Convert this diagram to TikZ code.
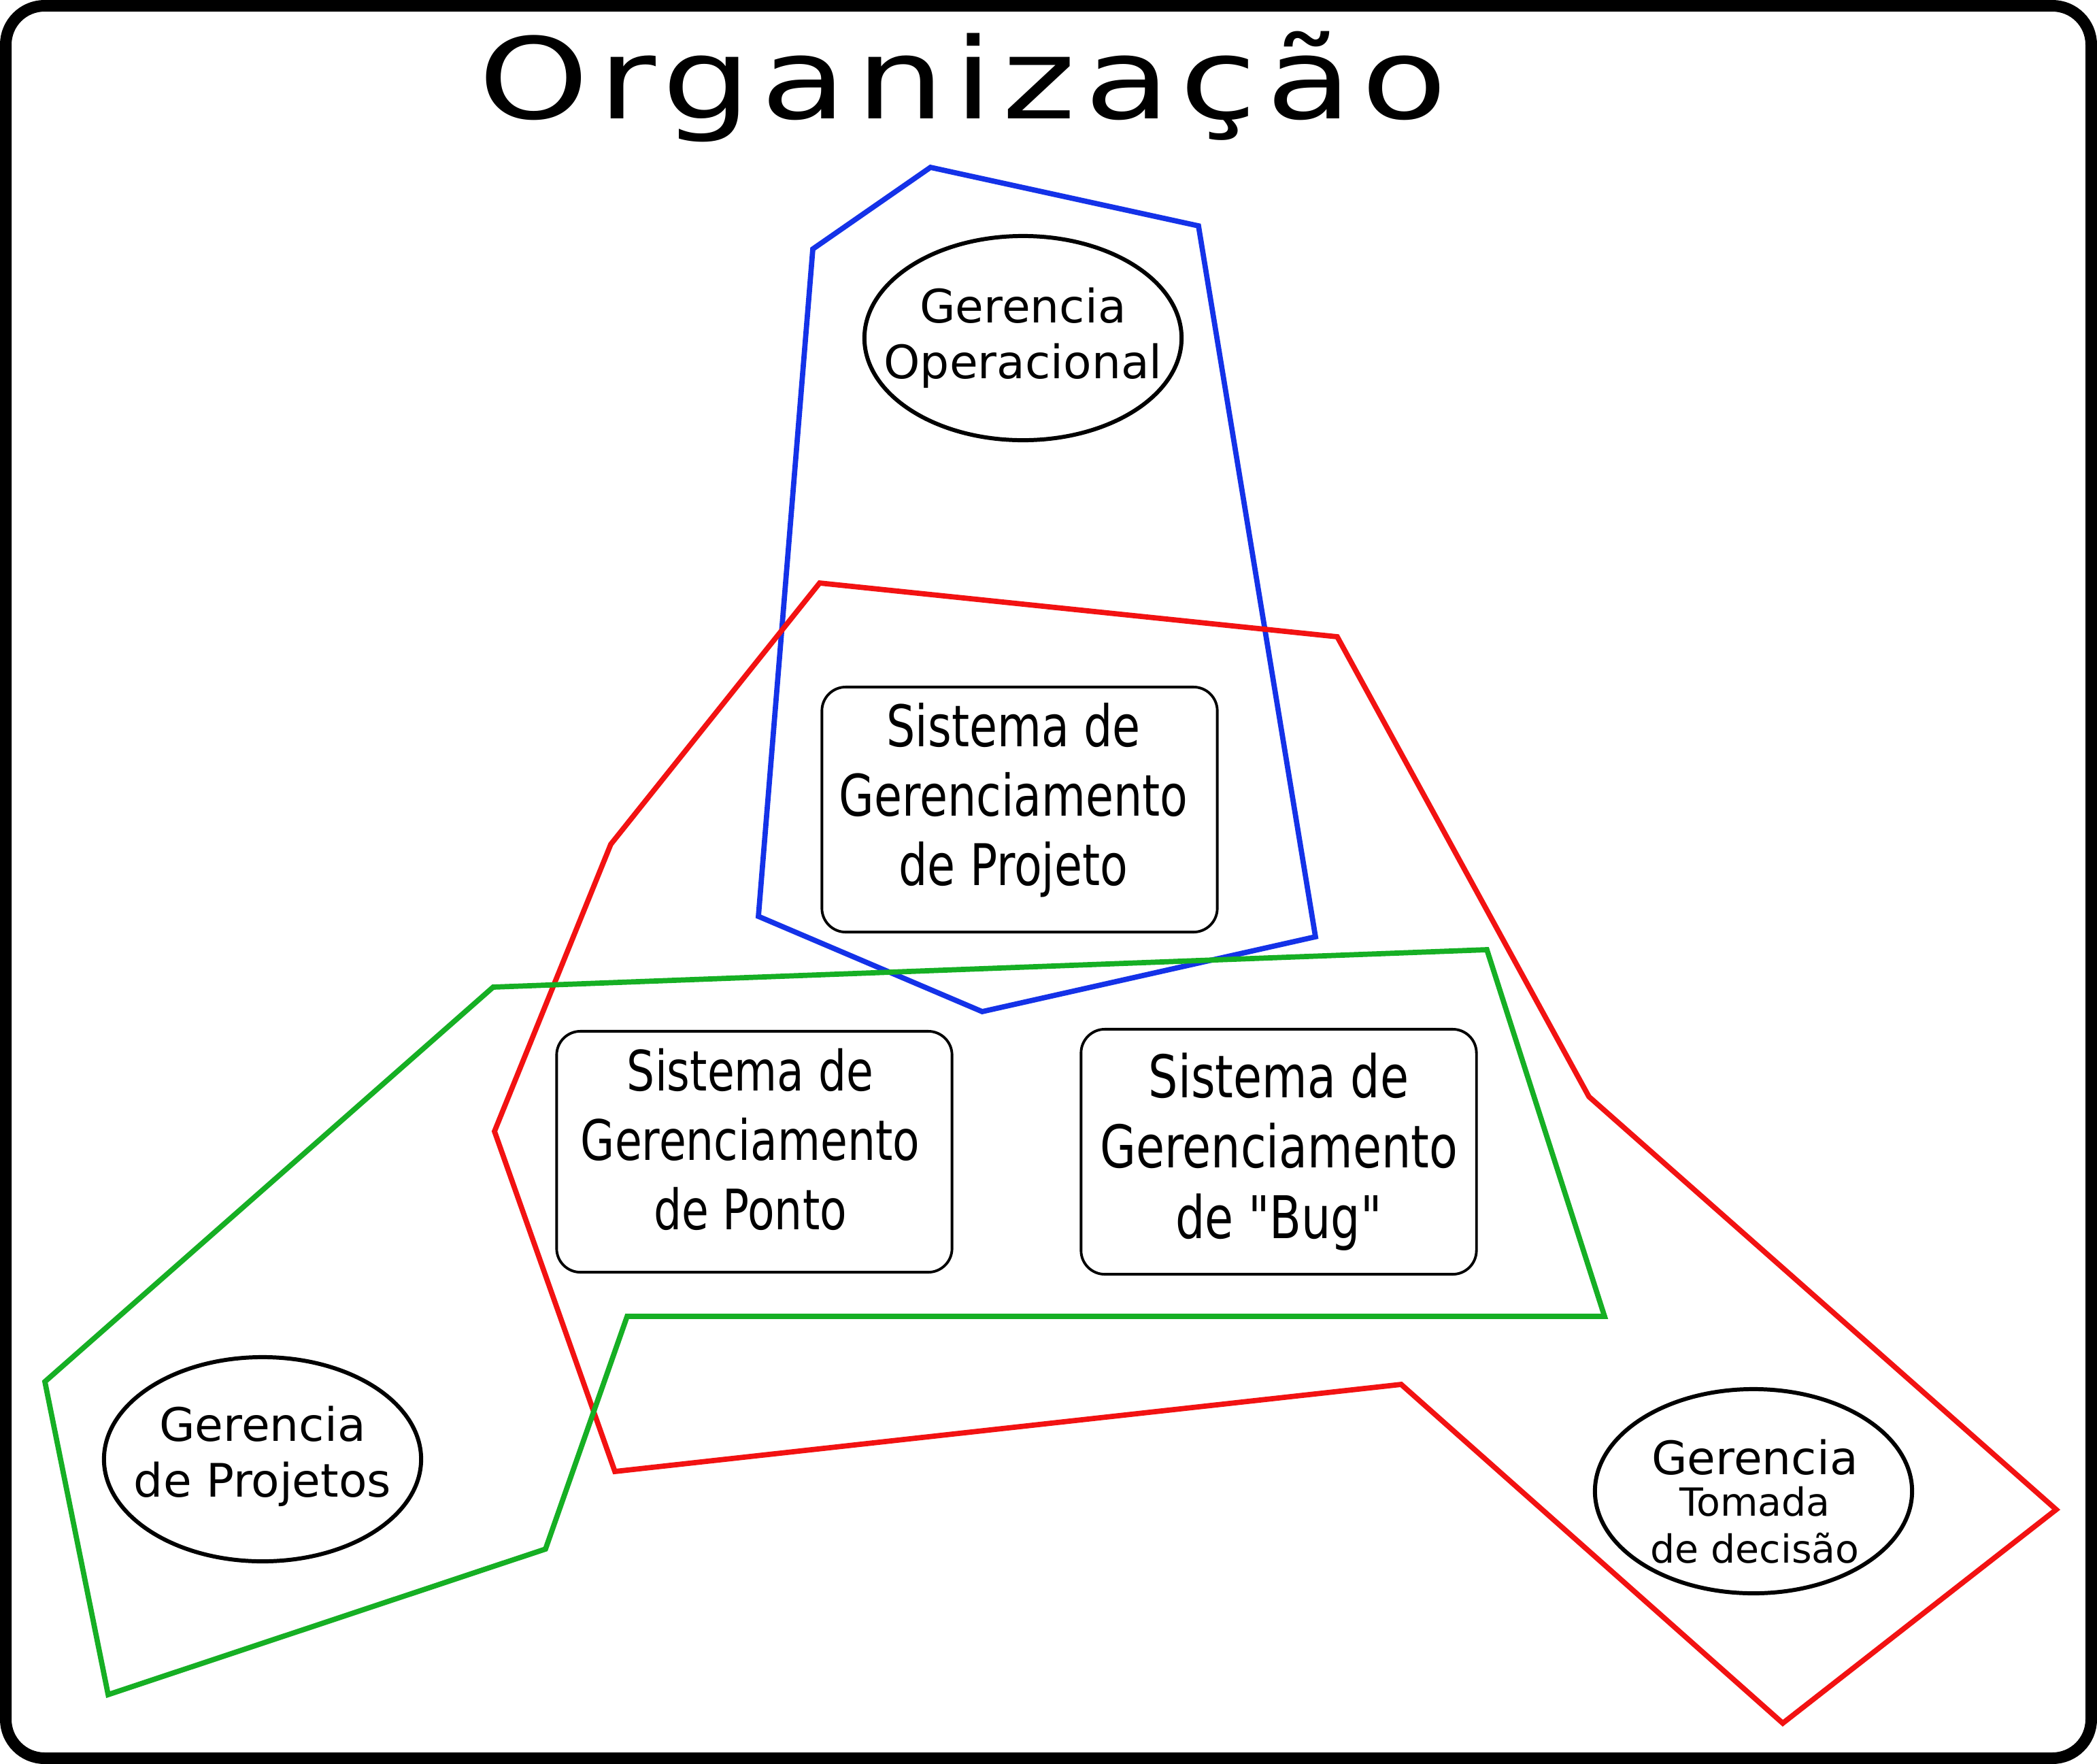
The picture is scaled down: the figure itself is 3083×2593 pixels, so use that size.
\documentclass[tikz,border=0pt]{standalone}
\usepackage{fontspec}
\setmainfont{DejaVu Sans}
\newfontfamily\titlefont{DejaVu Sans}[FakeStretch=1.25,LetterSpace=8]
\newfontfamily\boxfont{DejaVu Sans}[FakeStretch=0.79]
\usetikzlibrary{shapes.geometric}
\definecolor{setblue}{RGB}{20,50,232}
\definecolor{setred}{RGB}{242,18,18}
\definecolor{setgreen}{RGB}{22,175,36}

\begin{document}
\begin{tikzpicture}[x=0.01cm,y=-0.01cm,
  gerencia/.style={draw,ellipse,line width=1.7pt,inner sep=0pt,minimum width=4.66cm,minimum height=3cm},
  rotulo/.style={align=center,inner sep=0pt,font=\fontsize{19.3pt}{23.3pt}\selectfont},
  sistema/.style={draw,rounded corners=0.35cm,line width=1.1pt,inner sep=0pt,minimum width=5.81cm,minimum height=3.6cm},
  sistxt/.style={align=center,inner sep=0pt,text depth=0.38cm,font=\boxfont\fontsize{23.3pt}{29pt}\selectfont},
  conjunto/.style={line width=2.2pt}]
\useasboundingbox (0,0) rectangle (3083,2593);
\draw[line width=4.84pt,rounded corners=0.57cm] (8.5,8.5) rectangle (3074.5,2584.5);
\node[anchor=base west,inner sep=0pt,font=\titlefont\fontsize{47pt}{56pt}\selectfont] (titulo) at (703,174) {Organização};

% conjuntos
\draw[conjunto,setblue] (1368,246) -- (1762,332) -- (1934,1377) -- (1444,1487) -- (1115,1347) -- (1195,366) -- cycle;
\draw[conjunto,setred] (1205,857) -- (1966,936) -- (2336,1612) -- (3023,2219) -- (2621,2533) -- (2060,2035) -- (904,2163) -- (727,1663) -- (898,1241) -- cycle;
\draw[conjunto,setgreen] (725,1451) -- (2186,1396) -- (2359,1935) -- (922,1935) -- (802,2277) -- (159,2491) -- (66,2031) -- cycle;

% gerencias
\node[gerencia] (operacional) at (1504,497) {};
\node[gerencia] (projetos) at (386,2145) {};
\node[gerencia] (decisao) at (2578,2192) {};
\node[rotulo] (operacional-txt) at (1504,497) {Gerencia\\Operacional};
\node[rotulo] (projetos-txt) at (386,2141) {Gerencia\\de Projetos};
\node[rotulo,font=\fontsize{16.2pt}{19.6pt}\selectfont] (decisao-txt) at (2580,2207)
  {{\fontsize{19.3pt}{19.6pt}\selectfont Gerencia}\\[-2.3pt]Tomada\\de decisão};

% sistemas
\node[sistema] (sgprojeto) at (1499,1190) {};
\node[sistema,minimum height=3.54cm] (sgponto) at (1109,1693) {};
\node[sistema] (sgbug) at (1880,1693) {};
\node[sistxt,font=\boxfont\fontsize{24pt}{29pt}\selectfont] (sgprojeto-txt) at (1490,1186) {Sistema de\\Gerenciamento\\de Projeto};
\node[sistxt] (sgponto-txt) at (1103,1693) {Sistema de\\Gerenciamento\\de Ponto};
\node[sistxt,font=\boxfont\fontsize{24.6pt}{29.5pt}\selectfont] (sgbug-txt) at (1880,1703) {Sistema de\\Gerenciamento\\de "Bug"};
\end{tikzpicture}
\end{document}
